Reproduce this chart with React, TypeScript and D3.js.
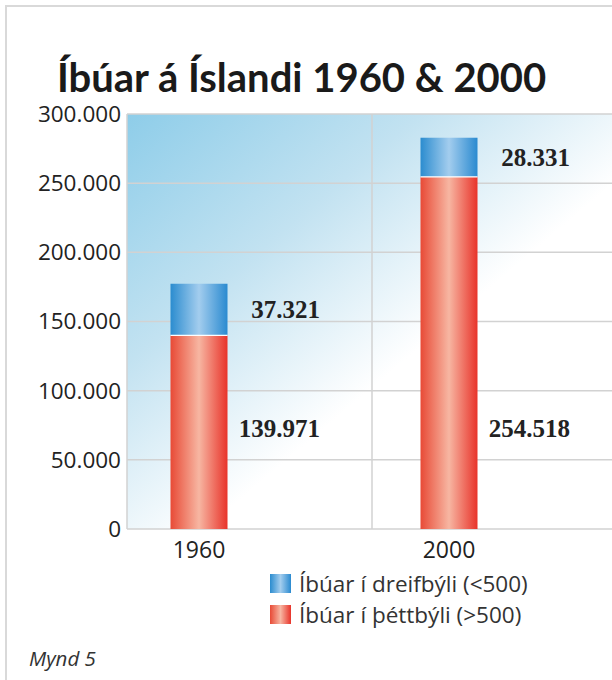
import React from 'react';
import * as d3 from 'd3';

const years = ['1960', '2000'];
const urban = [139971, 254518]; // Íbúar í þéttbýli (>500)
const rural = [37321, 28331]; // Íbúar í dreifbýli (<500)
const yTicks = [0, 50000, 100000, 150000, 200000, 250000, 300000];
const legendLabels = ['Íbúar í dreifbýli (<500)', 'Íbúar í þéttbýli (>500)'];

const fmt = (v: number) => d3.format(',')(v).replace(/,/g, '.');

const W = 612;
const H = 680;
const plot = { left: 127, right: 617, top: 114, bottom: 529 };
const barW = 57;
const sans = '"Open Sans", "Noto Sans", sans-serif';

const App: React.FC = () => {
  const y = d3.scaleLinear().domain([0, 300000]).range([plot.bottom, plot.top]);
  const x = d3.scalePoint<string>().domain(years).range([199, 449]);
  const midX = (plot.left + plot.right) / 2;

  const stacked = d3.stack<number>()
    .keys(['urban', 'rural'])
    .value((i, key) => (key === 'urban' ? urban[i] : rural[i]))(d3.range(years.length));

  const redLabelLevel = 73000;

  return (
    <svg width={W} height={H} style={{ display: 'block', position: 'absolute', left: 0, top: 0 }}>
      <defs>
        <linearGradient id="bg" x1="0" y1="0" x2="1" y2="1" gradientUnits="objectBoundingBox">
          <stop offset="0" stopColor="#8ecde9" />
          <stop offset="0.3" stopColor="#c2e2f1" />
          <stop offset="0.58" stopColor="#ffffff" />
          <stop offset="1" stopColor="#ffffff" />
        </linearGradient>
        <linearGradient id="red" x1="0" y1="0" x2="1" y2="0">
          <stop offset="0" stopColor="#e84a36" />
          <stop offset="0.5" stopColor="#f7b6a2" />
          <stop offset="1" stopColor="#e8332a" />
        </linearGradient>
        <linearGradient id="blue" x1="0" y1="0" x2="1" y2="0">
          <stop offset="0" stopColor="#2b8ccf" />
          <stop offset="0.5" stopColor="#a3cdee" />
          <stop offset="1" stopColor="#2a8ad0" />
        </linearGradient>
      </defs>
      <rect x={0} y={0} width={W} height={H} fill="#fff" />
      <rect x={6} y={6} width={W + 20} height={H + 20} fill="none" stroke="#d9d9d9" strokeWidth={2} />

      <text x={57} y={92} fontFamily='Lato, "Open Sans", sans-serif' fontWeight="bold" fontSize={40} fill="#1a1a1a">
        Íbúar á Íslandi 1960 &amp; 2000
      </text>

      <rect x={plot.left} y={plot.top} width={plot.right - plot.left} height={plot.bottom - plot.top} fill="url(#bg)" />

      {yTicks.map((t) => (
        <g key={t}>
          <line x1={plot.left} x2={plot.right} y1={y(t)} y2={y(t)} stroke="#d2d2d2" strokeWidth={1.5} />
          <text x={121} y={y(t)} dy="0.35em" textAnchor="end" fontFamily={sans} fontSize={22.5} fill="#222">
            {fmt(t)}
          </text>
        </g>
      ))}
      <line x1={plot.left} x2={plot.left} y1={plot.top} y2={plot.bottom} stroke="#d2d2d2" strokeWidth={1.5} />
      <line x1={midX} x2={midX} y1={plot.top} y2={plot.bottom} stroke="#d2d2d2" strokeWidth={1.5} />

      {stacked.map((layer) =>
        layer.map((d, i) => (
          <rect
            key={layer.key + i}
            x={x(years[i])! - barW / 2}
            y={y(d[1])}
            width={barW}
            height={y(d[0]) - y(d[1])}
            fill={layer.key === 'urban' ? 'url(#red)' : 'url(#blue)'}
          />
        ))
      )}
      {years.map((yr, i) => (
        <line key={'sep' + yr} x1={x(yr)! - barW / 2} x2={x(yr)! + barW / 2} y1={y(urban[i])} y2={y(urban[i])} stroke="#fff" strokeWidth={1.2} />
      ))}

      {years.map((yr, i) => (
        <g key={'lab' + yr} fontFamily='"Liberation Serif", serif' fontWeight="bold" fontSize={25} fill="#222" textAnchor="end">
          <text x={x(yr)! + 121} y={y(urban[i] + rural[i] / 2)} dy="0.35em">{fmt(rural[i])}</text>
          <text x={x(yr)! + 121} y={y(redLabelLevel)} dy="0.35em">{fmt(urban[i])}</text>
        </g>
      ))}

      {years.map((yr) => (
        <text key={'x' + yr} x={x(yr)} y={558} textAnchor="middle" fontFamily={sans} fontSize={23} fill="#222">
          {yr}
        </text>
      ))}

      {legendLabels.map((l, i) => (
        <g key={l} transform={`translate(270,${574 + i * 31})`}>
          <rect x={0} y={0} width={21} height={19} fill={i === 0 ? 'url(#blue)' : 'url(#red)'} />
          <text x={29} y={10} dy="0.35em" fontFamily={sans} fontSize={22.5} fill="#333">{l}</text>
        </g>
      ))}

      <text x={29} y={666} fontFamily={sans} fontStyle="italic" fontSize={20.5} fill="#333">Mynd 5</text>
    </svg>
  );
};

export default App;
